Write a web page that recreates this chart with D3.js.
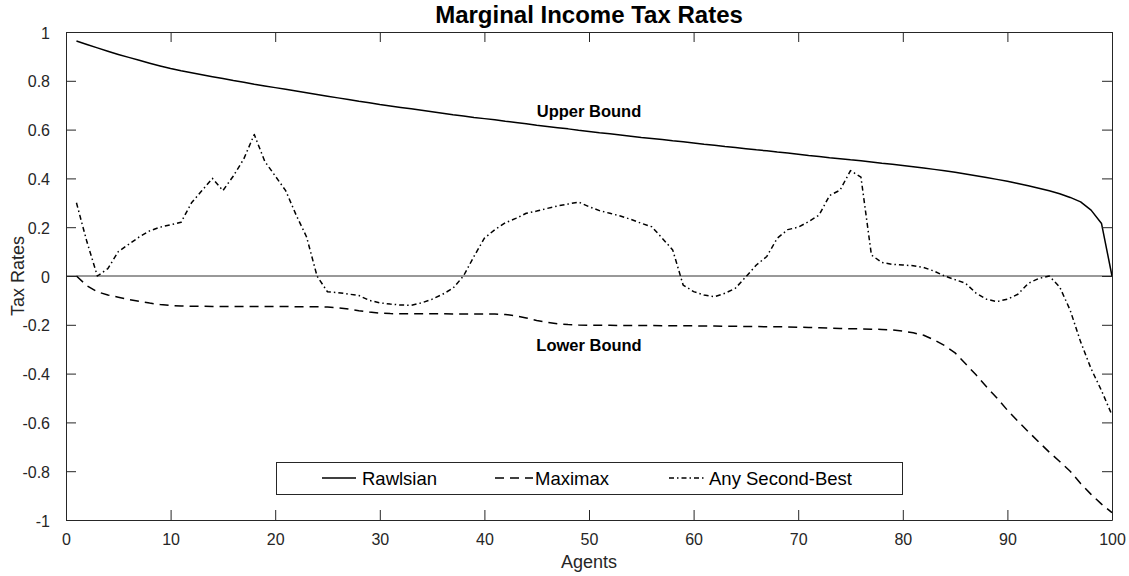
<!DOCTYPE html>
<html>
<head>
<meta charset="utf-8">
<script src="https://cdn.jsdelivr.net/npm/d3@7"></script>
<style>
  html, body { margin: 0; padding: 0; background: #fff; }
  svg { display: block; font-family: "Liberation Sans", Arial, Helvetica, sans-serif; }
</style>
</head>
<body>
<svg id="chart" width="1129" height="576"></svg>
<script>
// Agents 1..100
const agents = d3.range(1, 101);

// Rawlsian optimum (upper bound on marginal rates)
const rawlsian = [
  0.963, 0.949, 0.935, 0.921, 0.908, 0.896, 0.884, 0.872, 0.861, 0.850,
  0.841, 0.833, 0.825, 0.817, 0.809, 0.801, 0.794, 0.786, 0.779, 0.772,
  0.765, 0.758, 0.751, 0.744, 0.737, 0.730, 0.723, 0.716, 0.710, 0.703,
  0.697, 0.691, 0.685, 0.679, 0.673, 0.667, 0.661, 0.656, 0.650, 0.645,
  0.640, 0.634, 0.629, 0.624, 0.618, 0.613, 0.608, 0.603, 0.597, 0.592,
  0.587, 0.583, 0.578, 0.573, 0.568, 0.564, 0.559, 0.554, 0.550, 0.545,
  0.540, 0.536, 0.531, 0.527, 0.522, 0.517, 0.513, 0.508, 0.504, 0.499,
  0.494, 0.490, 0.485, 0.481, 0.476, 0.472, 0.467, 0.462, 0.458, 0.453,
  0.448, 0.443, 0.437, 0.431, 0.425, 0.418, 0.411, 0.404, 0.396, 0.388,
  0.379, 0.370, 0.360, 0.349, 0.337, 0.322, 0.304, 0.270, 0.215, 0.000
];

// Maximax optimum (lower bound on marginal rates)
const maximax = [
  0.000, -0.040, -0.065, -0.078, -0.087, -0.096, -0.104, -0.111, -0.117, -0.121,
  -0.123, -0.124, -0.124, -0.125, -0.125, -0.125, -0.125, -0.125, -0.125, -0.125,
  -0.125, -0.126, -0.126, -0.126, -0.127, -0.130, -0.135, -0.142, -0.148, -0.152,
  -0.154, -0.155, -0.155, -0.155, -0.155, -0.155, -0.156, -0.156, -0.156, -0.156,
  -0.156, -0.158, -0.163, -0.172, -0.182, -0.190, -0.196, -0.199, -0.201, -0.202,
  -0.202, -0.202, -0.203, -0.203, -0.203, -0.203, -0.204, -0.204, -0.204, -0.204,
  -0.205, -0.205, -0.206, -0.206, -0.207, -0.207, -0.208, -0.208, -0.209, -0.210,
  -0.211, -0.212, -0.213, -0.215, -0.216, -0.217, -0.218, -0.219, -0.221, -0.226,
  -0.233, -0.243, -0.262, -0.285, -0.315, -0.360, -0.405, -0.454, -0.500, -0.550,
  -0.595, -0.638, -0.680, -0.722, -0.760, -0.800, -0.850, -0.895, -0.935, -0.970
];

// An arbitrary second-best schedule lying between the bounds
const secondBest = [
  0.300, 0.140, 0.000, 0.030, 0.100, 0.130, 0.160, 0.185, 0.200, 0.210,
  0.220, 0.300, 0.350, 0.400, 0.350, 0.410, 0.480, 0.580, 0.470, 0.410,
  0.350, 0.250, 0.160, 0.000, -0.065, -0.068, -0.074, -0.080, -0.100, -0.110,
  -0.115, -0.119, -0.120, -0.110, -0.095, -0.075, -0.050, 0.000, 0.080, 0.155,
  0.190, 0.218, 0.236, 0.257, 0.266, 0.277, 0.287, 0.295, 0.303, 0.284,
  0.268, 0.257, 0.246, 0.232, 0.216, 0.202, 0.155, 0.107, -0.037, -0.064,
  -0.078, -0.085, -0.071, -0.050, -0.003, 0.045, 0.080, 0.155, 0.190, 0.200,
  0.223, 0.250, 0.330, 0.352, 0.432, 0.405, 0.086, 0.055, 0.048, 0.045,
  0.042, 0.035, 0.020, 0.000, -0.015, -0.030, -0.070, -0.095, -0.105, -0.095,
  -0.075, -0.030, -0.010, 0.000, -0.045, -0.140, -0.270, -0.380, -0.470, -0.570
];

const seriesNames = ["Rawlsian", "Maximax", "Any Second-Best"];
const xTicks = [0, 10, 20, 30, 40, 50, 60, 70, 80, 90, 100];
const yTicks = [-1, -0.8, -0.6, -0.4, -0.2, 0, 0.2, 0.4, 0.6, 0.8, 1];
const yTickLabels = ["-1", "-0.8", "-0.6", "-0.4", "-0.2", "0", "0.2", "0.4", "0.6", "0.8", "1"];

const titleText = "Marginal Income Tax Rates";
const xLabelText = "Agents";
const yLabelText = "Tax Rates";
const upperText = "Upper Bound";
const lowerText = "Lower Bound";

const svg = d3.select("#chart");
const plotLeft = 66, plotRight = 1112, plotTop = 32, plotBottom = 520;
const axisColor = "#262626";

const x = d3.scaleLinear().domain([0, 100]).range([plotLeft, plotRight]);
const y = d3.scaleLinear().domain([-1, 1]).range([plotBottom, plotTop]);

const styles = [
  { dash: null },
  { dash: "9,6" },
  { dash: "5,3,1.5,3" }
];
const seriesData = [rawlsian, maximax, secondBest];

// Zero reference line
svg.append("line")
  .attr("x1", x(0)).attr("x2", x(100))
  .attr("y1", y(0)).attr("y2", y(0))
  .attr("stroke", "#333").attr("stroke-width", 1);

// Curves
const line = d3.line()
  .x((d, i) => x(agents[i]))
  .y(d => y(d));

seriesData.forEach((vals, k) => {
  svg.append("path")
    .datum(vals)
    .attr("d", line)
    .attr("fill", "none")
    .attr("stroke", "#000")
    .attr("stroke-width", 1.5)
    .attr("stroke-linejoin", "round")
    .attr("stroke-dasharray", styles[k].dash);
});

// Axes on all four sides, ticks pointing inward
function styleAxis(g) {
  g.selectAll("path.domain").attr("stroke", axisColor).attr("stroke-width", 1);
  g.selectAll(".tick line").attr("stroke", axisColor).attr("stroke-width", 1);
  g.selectAll(".tick text")
    .attr("fill", axisColor)
    .style("font-size", "16px")
    .style("font-family", "'Liberation Sans', Arial, sans-serif");
}

const gx = svg.append("g").attr("transform", `translate(0,${plotBottom})`)
  .call(d3.axisBottom(x).tickValues(xTicks).tickFormat(d3.format("d")).tickSizeInner(-10).tickSizeOuter(0).tickPadding(14));
styleAxis(gx);

const gxt = svg.append("g").attr("transform", `translate(0,${plotTop})`)
  .call(d3.axisTop(x).tickValues(xTicks).tickFormat("").tickSizeInner(-10).tickSizeOuter(0));
styleAxis(gxt);

const gy = svg.append("g").attr("transform", `translate(${plotLeft},0)`)
  .call(d3.axisLeft(y).tickValues(yTicks).tickFormat((d, i) => yTickLabels[i]).tickSizeInner(-10).tickSizeOuter(0).tickPadding(16));
styleAxis(gy);
gy.selectAll(".tick text").attr("dy", "0.38em");

const gyr = svg.append("g").attr("transform", `translate(${plotRight},0)`)
  .call(d3.axisRight(y).tickValues(yTicks).tickFormat("").tickSizeInner(-10).tickSizeOuter(0));
styleAxis(gyr);

// Title and axis labels
svg.append("text")
  .attr("x", (plotLeft + plotRight) / 2).attr("y", 23)
  .attr("text-anchor", "middle")
  .style("font-size", "24px").style("font-weight", "bold")
  .attr("fill", "#000")
  .text(titleText);

svg.append("text")
  .attr("x", (plotLeft + plotRight) / 2).attr("y", 568)
  .attr("text-anchor", "middle")
  .style("font-size", "18px")
  .attr("fill", axisColor)
  .text(xLabelText);

svg.append("text")
  .attr("transform", `translate(24,${(plotTop + plotBottom) / 2}) rotate(-90)`)
  .attr("text-anchor", "middle")
  .style("font-size", "18px")
  .attr("fill", axisColor)
  .text(yLabelText);

// Bound annotations
svg.append("text")
  .attr("x", x(50)).attr("y", 117)
  .attr("text-anchor", "middle")
  .style("font-size", "16.5px").style("font-weight", "bold")
  .text(upperText);

svg.append("text")
  .attr("x", x(50)).attr("y", 351)
  .attr("text-anchor", "middle")
  .style("font-size", "16.5px").style("font-weight", "bold")
  .text(lowerText);

// Legend
const legend = svg.append("g");
legend.append("rect")
  .attr("x", 276.5).attr("y", 462.5)
  .attr("width", 626).attr("height", 32)
  .attr("fill", "#fff").attr("stroke", axisColor).attr("stroke-width", 1);

const legendItems = [
  { x1: 322, x2: 356, tx: 362 },
  { x1: 495, x2: 533, tx: 535 },
  { x1: 669, x2: 705, tx: 709 }
];
legendItems.forEach((it, k) => {
  legend.append("line")
    .attr("x1", it.x1).attr("x2", it.x2)
    .attr("y1", 478).attr("y2", 478)
    .attr("stroke", "#000").attr("stroke-width", 1.5)
    .attr("stroke-dasharray", styles[k].dash);
  legend.append("text")
    .attr("x", it.tx).attr("y", 485)
    .style("font-size", "18.5px")
    .attr("fill", "#000")
    .text(seriesNames[k]);
});
</script>
</body>
</html>
